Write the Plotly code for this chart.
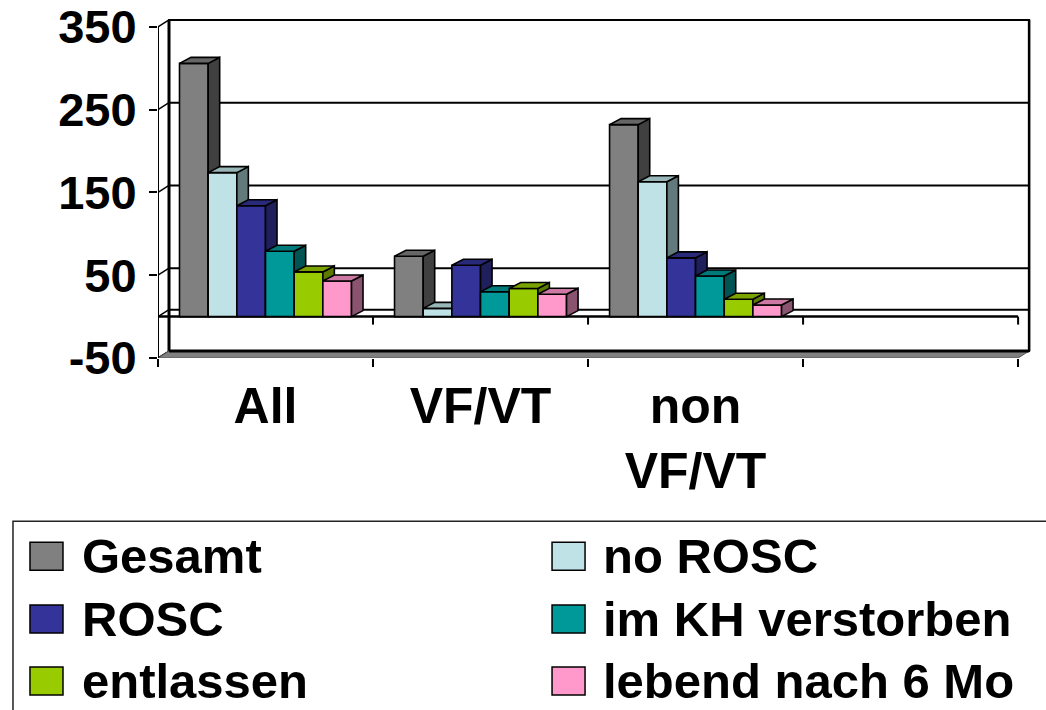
import plotly.graph_objects as go

# ---------------- data ----------------
categories = ["All", "VF/VT", "non<br>VF/VT", ""]
series_names = ["Gesamt", "no ROSC", "ROSC", "im KH verstorben", "entlassen", "lebend nach 6 Mo"]
gesamt = [306, 73, 232]
no_rosc = [174, 10, 163]
rosc = [134, 62, 71]
im_kh_verstorben = [79, 30, 49]
entlassen = [54, 34, 21]
lebend_6_monate = [43, 27, 14]
y_ticks = [-50, 50, 150, 250, 350]

series_values = [gesamt, no_rosc, rosc, im_kh_verstorben, entlassen, lebend_6_monate]

# ---------------- styles ----------------
front_colors = ["#808080", "#BEE2E5", "#333399", "#009999", "#99CC00", "#FF99CC"]
top_colors = ["#666666", "#98B5B7", "#29297A", "#007A7A", "#7AA300", "#CC7AA3"]
side_colors = ["#404040", "#627A7C", "#1F1F5C", "#005454", "#5C7A00", "#8A5470"]

FONT = "Liberation Sans, Arial, Helvetica, sans-serif"
W, H = 1046, 710
XPX0, XPU = 158.0, 215.0          # pixel of x=-0.5, pixels per category slot
YPX0, YPU = 358.5, 0.829          # pixel of y=-50, pixels per value unit
XR = [-0.5, 3.56]
YR = [-50, 362]
ml = XPX0
plot_w = (XR[1] - XR[0]) * XPU
mr = W - ml - plot_w
mb = H - YPX0
plot_h = (YR[1] - YR[0]) * YPU
mt = YPX0 - plot_h

# 3D depth offsets (data units)
DXW, DYW = 11.0 / XPU, 7.0 / YPU      # walls
DXB, DYB = 11.5 / XPU, 6.0 / YPU      # bars
GROUP = 0.8
BW = GROUP / len(series_values)

x_idx = list(range(len(categories)))
x_left, x_right = x_idx[0] - 0.5, x_idx[-1] + 0.5


def pxx(p):
    return (p - XPX0) / plot_w


def pxy(p):
    return (YPX0 - p) / plot_h


fig = go.Figure()

for k, (name, vals) in enumerate(zip(series_names, series_values)):
    xa = "x" if k == 0 else f"x{k + 1}"
    ya = "y" if k == 0 else f"y{k + 1}"
    off = -GROUP / 2 + k * BW
    xs = x_idx[:len(vals)]
    fig.add_trace(go.Bar(
        x=xs, y=vals, width=BW, offset=off, name=name,
        marker=dict(color=front_colors[k], line=dict(color="black", width=1.6)),
        xaxis=xa, yaxis=ya, showlegend=False, hoverinfo="skip",
    ))
    for xc, v in zip(xs, vals):
        xl = xc + off
        xr = xl + BW
        # side face
        fig.add_trace(go.Scatter(
            x=[xr, xr + DXB, xr + DXB, xr, xr],
            y=[0, DYB, v + DYB, v, 0],
            mode="lines", fill="toself", fillcolor=side_colors[k],
            line=dict(color="black", width=1.6),
            xaxis=xa, yaxis=ya, showlegend=False, hoverinfo="skip",
        ))
        # top face
        fig.add_trace(go.Scatter(
            x=[xl, xr, xr + DXB, xl + DXB, xl],
            y=[v, v, v + DYB, v + DYB, v],
            mode="lines", fill="toself", fillcolor=top_colors[k],
            line=dict(color="black", width=1.6),
            xaxis=xa, yaxis=ya, showlegend=False, hoverinfo="skip",
        ))

shapes = []
# back wall
shapes.append(dict(type="rect", xref="x", yref="y", layer="below",
                   x0=x_left + DXW, x1=x_right + DXW, y0=y_ticks[0] + DYW, y1=y_ticks[-1] + DYW,
                   line=dict(color="black", width=2), fillcolor="white"))
# back gridlines (incl. the zero plane line)
for v in [0] + y_ticks[1:-1]:
    shapes.append(dict(type="line", xref="x", yref="y", layer="below",
                       x0=x_left + DXW, x1=x_right + DXW, y0=v + DYW, y1=v + DYW,
                       line=dict(color="black", width=2)))
# left edge of back wall (thick)
shapes.append(dict(type="line", xref="x", yref="y", layer="below",
                   x0=x_left + DXW, x1=x_left + DXW, y0=y_ticks[0] + DYW, y1=y_ticks[-1] + DYW,
                   line=dict(color="black", width=3)))
# diagonal connectors on the left side wall
for v in y_ticks + [0]:
    shapes.append(dict(type="line", xref="x", yref="y", layer="below",
                       x0=x_left, x1=x_left + DXW, y0=v, y1=v + DYW,
                       line=dict(color="black", width=1.5)))
# floor slab
fy = y_ticks[0]
shapes.append(dict(type="path", xref="x", yref="y", layer="below",
                   path=f"M{x_left},{fy} L{x_right},{fy} L{x_right + DXW},{fy + DYW} L{x_left + DXW},{fy + DYW} Z",
                   fillcolor="#808080", line=dict(color="#555555", width=1)))
shapes.append(dict(type="line", xref="x", yref="y", layer="below",
                   x0=x_left + DXW, x1=x_right + DXW, y0=fy + DYW, y1=fy + DYW,
                   line=dict(color="black", width=3)))
# right edge of back wall
shapes.append(dict(type="line", xref="x", yref="y", layer="below",
                   x0=x_right + DXW, x1=x_right + DXW, y0=y_ticks[0] + DYW, y1=y_ticks[-1] + DYW,
                   line=dict(color="black", width=2.5)))
# front zero line with tick marks at category boundaries
shapes.append(dict(type="line", xref="x", yref="y", layer="below",
                   x0=x_left, x1=x_right, y0=0, y1=0, line=dict(color="black", width=2.5)))
for b in [c + 0.5 for c in x_idx]:
    shapes.append(dict(type="line", xref="x", yref="y", layer="below",
                       x0=b, x1=b, y0=0, y1=-8.0 / YPU, line=dict(color="black", width=2)))
# front value axis line
shapes.append(dict(type="line", xref="x", yref="y", layer="below",
                   x0=x_left, x1=x_left, y0=y_ticks[0], y1=y_ticks[-1],
                   line=dict(color="black", width=2)))

# ---------------- legend (drawn) ----------------
leg_rows = [557, 620, 682]
leg_sw_x = [30, 552]
leg_tx_x = [80, 601]
SW_W, SW_H = 33, 28
shapes.append(dict(type="rect", xref="paper", yref="paper", layer="above",
                   x0=pxx(13), x1=pxx(1090), y0=pxy(760), y1=pxy(522),
                   line=dict(color="#222222", width=1.5), fillcolor="rgba(0,0,0,0)"))
annotations = []
for i, name in enumerate(series_names):
    r, c = divmod(i, 2)
    cy = leg_rows[r]
    shapes.append(dict(type="rect", xref="paper", yref="paper", layer="above",
                       x0=pxx(leg_sw_x[c]), x1=pxx(leg_sw_x[c] + SW_W),
                       y0=pxy(cy + SW_H / 2), y1=pxy(cy - SW_H / 2),
                       line=dict(color="black", width=1.5), fillcolor=front_colors[i]))
    annotations.append(dict(xref="paper", yref="paper", x=pxx(leg_tx_x[c]), y=pxy(cy),
                            xanchor="left", yanchor="middle", showarrow=False, text=name,
                            font=dict(family=FONT, size=49, color="black", weight="bold")))

layout_axes = {}
layout_axes["xaxis"] = dict(range=XR, tickvals=[c - 0.5 for c in x_idx] + [x_right],
                            showticklabels=False, ticks="outside", ticklen=8, tickwidth=2,
                            tickcolor="black", showgrid=False, zeroline=False, showline=False,
                            fixedrange=True, automargin=False)
layout_axes["yaxis"] = dict(range=YR, tickvals=y_ticks, ticktext=[str(t) for t in y_ticks],
                            ticks="outside", ticklen=8, tickwidth=2, tickcolor="black",
                            showgrid=False, zeroline=False, showline=False, fixedrange=True,
                            ticklabelstandoff=3, automargin=False, ticklabeloverflow="allow",
                            tickfont=dict(family=FONT, size=47, color="black", weight="bold"))
for k in range(2, len(series_values) + 1):
    if k == 2:
        layout_axes[f"xaxis{k}"] = dict(range=XR, overlaying="x", side="bottom",
                                        tickvals=x_idx, ticktext=categories, ticks="",
                                        showgrid=False, zeroline=False, showline=False,
                                        ticklabelstandoff=14, fixedrange=True, automargin=False,
                                        ticklabeloverflow="allow",
                                        tickfont=dict(family=FONT, size=50, color="black", weight="bold"))
    else:
        layout_axes[f"xaxis{k}"] = dict(range=XR, overlaying="x", visible=False,
                                        fixedrange=True, automargin=False)
    layout_axes[f"yaxis{k}"] = dict(range=YR, overlaying="y", visible=False,
                                    fixedrange=True, automargin=False)

fig.update_layout(
    width=W, height=H,
    margin=dict(l=ml, r=mr, t=mt, b=mb, pad=0, autoexpand=False),
    paper_bgcolor="white", plot_bgcolor="white",
    barmode="overlay",
    showlegend=False,
    shapes=shapes,
    annotations=annotations,
    font=dict(family=FONT, color="black"),
    **layout_axes,
)

# the page's default 8px body margin would shift the chart; remove it
fig.write_html("out.html", config={"displayModeBar": False},
               post_script="document.body.style.margin='0px';")
